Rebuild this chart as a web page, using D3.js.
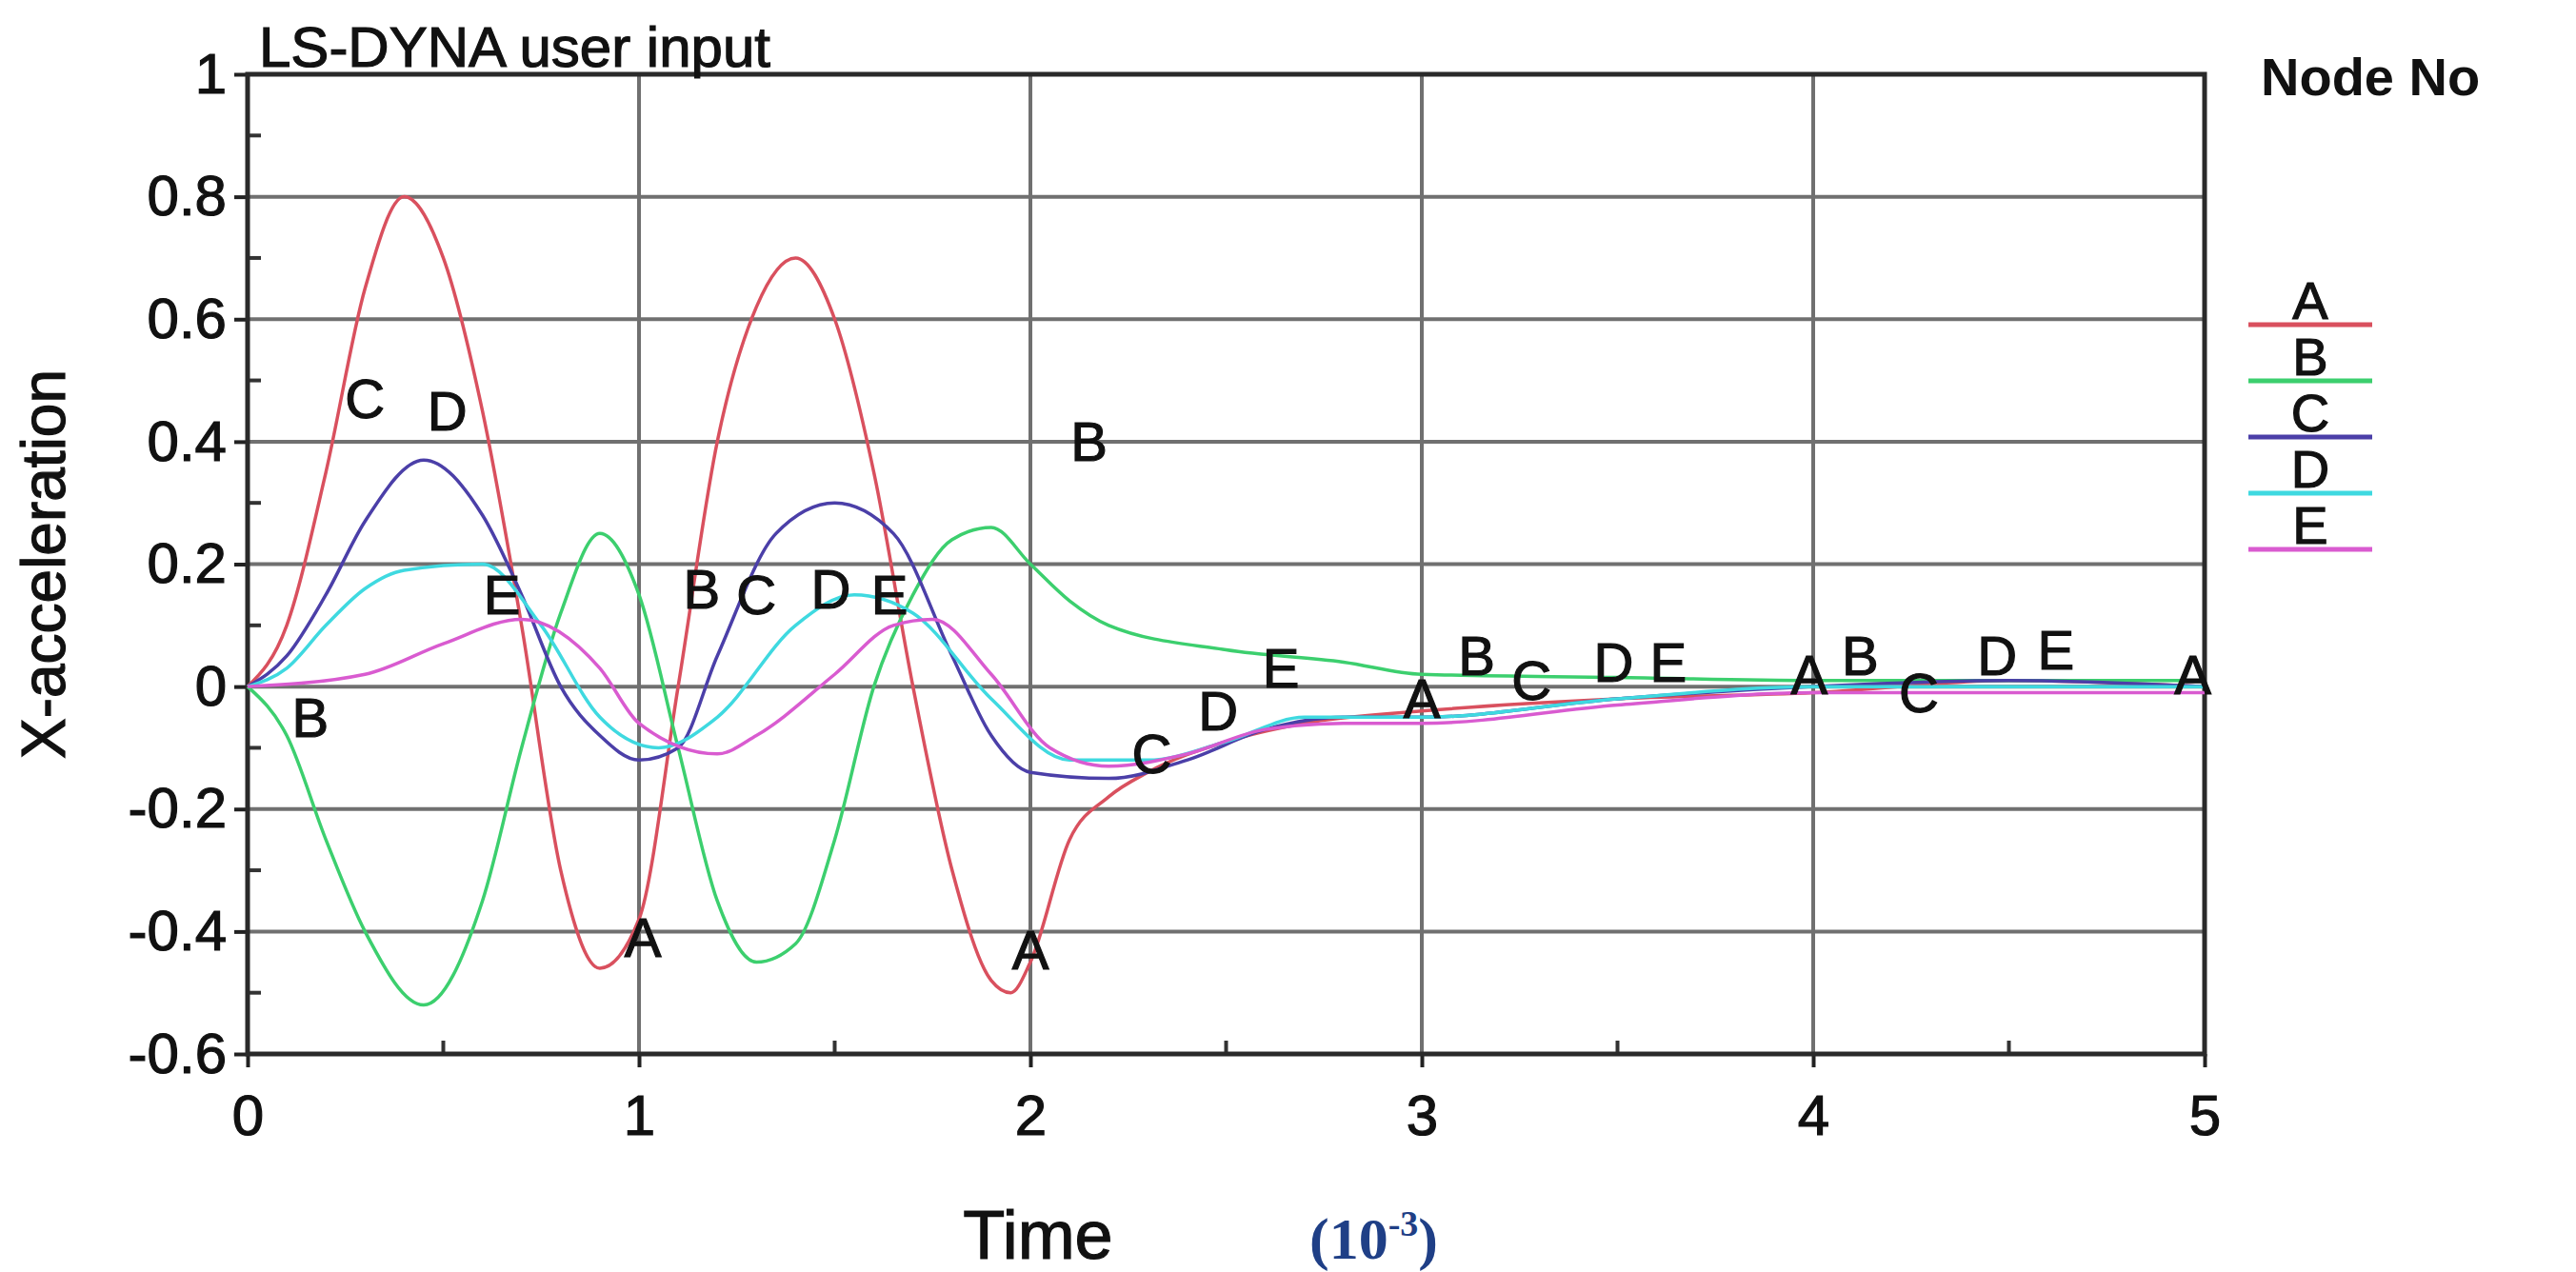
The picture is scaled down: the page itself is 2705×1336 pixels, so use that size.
<!DOCTYPE html>
<html><head><meta charset="utf-8">
<script src="https://cdn.jsdelivr.net/npm/d3@7"></script>
<style>body{margin:0;background:#fff}svg{display:block}</style>
</head><body>
<script>
const seriesNames = ["A","B","C","D","E"];
const seriesColors = ["#d9505e","#3ccf6e","#4b3fa8","#3fd9e0","#d95bd0"];
const xTicks = [0,1,2,3,4,5];
const yTicks = [-0.6,-0.4,-0.2,0,0.2,0.4,0.6,0.8,1];
const yTickLabels = ["-0.6","-0.4","-0.2","0","0.2","0.4","0.6","0.8","1"];
const seriesA = [[0,0],[0.1,0.1],[0.2,0.35],[0.3,0.65],[0.4,0.8],[0.5,0.7],[0.6,0.45],[0.7,0.1],[0.8,-0.3],[0.9,-0.46],[1.0,-0.38],[1.1,0],[1.2,0.4],[1.3,0.62],[1.4,0.7],[1.5,0.6],[1.6,0.35],[1.7,0],[1.8,-0.3],[1.9,-0.48],[1.95,-0.5],[2.0,-0.45],[2.1,-0.25],[2.2,-0.18],[2.3,-0.14],[2.5,-0.09],[2.7,-0.06],[3.0,-0.04],[3.5,-0.02],[4.0,-0.01],[4.5,0.01],[5.0,0]];
const seriesB = [[0,0],[0.1,-0.08],[0.2,-0.25],[0.3,-0.4],[0.45,-0.52],[0.6,-0.35],[0.7,-0.1],[0.8,0.12],[0.9,0.25],[1.0,0.15],[1.1,-0.1],[1.2,-0.35],[1.3,-0.45],[1.4,-0.42],[1.5,-0.25],[1.6,0],[1.7,0.15],[1.8,0.24],[1.9,0.26],[2.0,0.2],[2.1,0.14],[2.2,0.1],[2.5,0.06],[2.8,0.04],[3.0,0.02],[3.5,0.015],[4.0,0.01],[5.0,0.01]];
const seriesC = [[0,0],[0.1,0.05],[0.2,0.15],[0.3,0.27],[0.45,0.37],[0.6,0.28],[0.7,0.15],[0.8,0],[0.9,-0.08],[1.0,-0.12],[1.1,-0.1],[1.2,0.05],[1.35,0.25],[1.5,0.3],[1.65,0.25],[1.8,0.05],[1.9,-0.08],[2.0,-0.14],[2.2,-0.15],[2.4,-0.12],[2.6,-0.07],[2.8,-0.05],[3.0,-0.05],[3.5,-0.02],[4.0,0],[4.5,0.01],[5.0,0]];
const seriesD = [[0,0],[0.1,0.03],[0.2,0.1],[0.3,0.16],[0.4,0.19],[0.6,0.2],[0.75,0.1],[0.9,-0.05],[1.05,-0.1],[1.2,-0.05],[1.4,0.1],[1.55,0.15],[1.7,0.12],[1.9,-0.02],[2.1,-0.12],[2.3,-0.12],[2.5,-0.09],[2.7,-0.05],[3.0,-0.05],[3.5,-0.02],[4.0,0],[5.0,0]];
const seriesE = [[0,0],[0.3,0.02],[0.5,0.07],[0.7,0.11],[0.9,0.03],[1.0,-0.06],[1.2,-0.11],[1.3,-0.08],[1.5,0.02],[1.65,0.1],[1.75,0.11],[1.9,0.02],[2.05,-0.1],[2.2,-0.13],[2.4,-0.11],[2.6,-0.07],[2.8,-0.06],[3.0,-0.06],[3.5,-0.03],[4.0,-0.01],[5.0,-0.01]];
const labelsA = [[1.01,-0.41],[2.0,-0.43],[3.0,-0.02],[3.99,0.02],[4.97,0.02]];
const labelsB = [[0.16,-0.05],[1.16,0.16],[2.15,0.4],[3.14,0.05],[4.12,0.05]];
const labelsC = [[0.3,0.47],[1.3,0.15],[2.31,-0.11],[3.28,0.01],[4.27,-0.01]];
const labelsD = [[0.51,0.45],[1.49,0.16],[2.48,-0.04],[3.49,0.04],[4.47,0.05]];
const labelsE = [[0.65,0.15],[1.64,0.15],[2.64,0.03],[3.63,0.04],[4.62,0.06]];
const allSeries = [seriesA,seriesB,seriesC,seriesD,seriesE];
const allLabels = [labelsA,labelsB,labelsC,labelsD,labelsE];

const W=2705,H=1336;
const L=260,R=2315,T=78,B=1107;
const svg=d3.select("body").append("svg").attr("width",W).attr("height",H).style("font-family","'Liberation Sans',Arial,sans-serif");
const x=d3.scaleLinear().domain([0,5]).range([L,R]);
const y=d3.scaleLinear().domain([-0.6,1]).range([B,T]);
const txt=s=>s.attr("fill","#111").attr("stroke","#111").attr("stroke-width",1.2);

svg.append("g").selectAll("line").data(xTicks.slice(1,-1)).join("line")
 .attr("x1",d=>x(d)).attr("x2",d=>x(d)).attr("y1",T).attr("y2",B).attr("stroke","#707070").attr("stroke-width",4);
svg.append("g").selectAll("line").data(yTicks.slice(1,-1)).join("line")
 .attr("x1",L).attr("x2",R).attr("y1",d=>y(d)).attr("y2",d=>y(d)).attr("stroke","#707070").attr("stroke-width",4);

const xa=svg.append("g").attr("transform",`translate(0,${B})`).call(d3.axisBottom(x).tickValues(xTicks).tickFormat(d3.format("d")).tickSize(14).tickPadding(28));
const ya=svg.append("g").attr("transform",`translate(${L},0)`).call(d3.axisLeft(y).tickValues(yTicks).tickFormat((d,i)=>yTickLabels[i]).tickSize(14).tickPadding(8));
[xa,ya].forEach(g=>{g.select(".domain").remove();g.selectAll("line").attr("stroke","#222").attr("stroke-width",4);
 g.selectAll("text").attr("font-size",60).call(txt);});
svg.append("g").selectAll("line").data(d3.range(0.5,5,1)).join("line")
 .attr("x1",d=>x(d)).attr("x2",d=>x(d)).attr("y1",B).attr("y2",B-14).attr("stroke","#333").attr("stroke-width",4);
svg.append("g").selectAll("line").data(d3.range(-0.5,1,0.2)).join("line")
 .attr("x1",L).attr("x2",L+14).attr("y1",d=>y(d)).attr("y2",d=>y(d)).attr("stroke","#333").attr("stroke-width",4);
svg.append("rect").attr("x",L).attr("y",T).attr("width",R-L).attr("height",B-T).attr("fill","none").attr("stroke","#2a2a2a").attr("stroke-width",5);

const line=d3.line().x(d=>x(d[0])).y(d=>y(d[1])).curve(d3.curveMonotoneX);
allSeries.forEach((s,i)=>svg.append("path").datum(s).attr("d",line).attr("fill","none").attr("stroke",seriesColors[i]).attr("stroke-width",3.5));
allLabels.forEach((ls,i)=>svg.append("g").selectAll("text").data(ls).join("text")
 .attr("x",d=>x(d[0])).attr("y",d=>y(d[1])).attr("text-anchor","middle").attr("dominant-baseline","central")
 .attr("font-size",58).call(txt).text(seriesNames[i]));

svg.append("text").attr("x",L+12).attr("y",T-8).attr("font-size",60).call(txt).text("LS-DYNA user input");
svg.append("text").attr("transform",`translate(68,${(T+B)/2}) rotate(-90)`).attr("text-anchor","middle").attr("font-size",64).call(txt).text("X-acceleration");
svg.append("text").attr("x",1090).attr("y",1322).attr("text-anchor","middle").attr("font-size",72).call(txt).text("Time");
const tu=svg.append("text").attr("x",1375).attr("y",1322).attr("font-family","'Liberation Serif',serif").attr("font-weight","bold").attr("font-size",62).attr("fill","#1f3f86");
tu.append("tspan").text("(10");tu.append("tspan").attr("dy",-24).attr("font-size",38).text("-3");tu.append("tspan").attr("dy",24).text(")");

svg.append("text").attr("x",2374).attr("y",100).attr("font-size",56).attr("font-weight","bold").attr("fill","#111").text("Node No");
const lg=svg.append("g").selectAll("g").data(seriesNames).join("g").attr("transform",(d,i)=>`translate(2426,${341+i*59})`);
lg.append("text").attr("text-anchor","middle").attr("y",-6).attr("font-size",56).call(txt).text(d=>d);
lg.append("line").attr("x1",-65).attr("x2",65).attr("stroke",(d,i)=>seriesColors[i]).attr("stroke-width",5);
</script>
</body></html>
